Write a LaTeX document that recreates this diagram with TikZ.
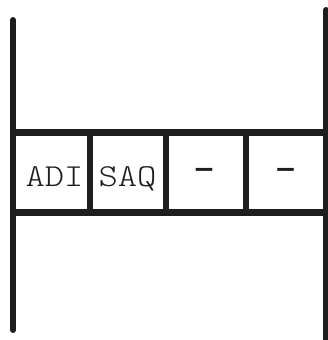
\documentclass[tikz,border=0pt]{standalone}
\usepackage{fontspec}
\setmonofont[FakeStretch=1.15]{Latin Modern Mono Light}
\newfontfamily\dashfont[FakeStretch=1.25]{Liberation Mono}
\definecolor{ink}{HTML}{1E1E1E}
\begin{document}
\begin{tikzpicture}[x=1pt,y=-1pt,
  bar/.style={line width=6pt,line cap=round,color=ink},
  rail/.style={line width=6.5pt,color=ink},
  cell/.style={font=\ttfamily\fontsize{32}{32}\selectfont,inner sep=0pt,text=ink,anchor=base},
  dashcell/.style={font=\dashfont\bfseries\fontsize{30}{30}\selectfont,inner sep=0pt,text=ink}]
\useasboundingbox (0,0) rectangle (328,340);
% outer vertical posts
\coordinate (lt) at (13,20);
\coordinate (lb) at (13,330);
\coordinate (rt) at (326,10);
\coordinate (rb) at (326,345);
\draw[bar] (lt) -- (lb);
\draw[bar] (rt) -- (rb);
% horizontal rails
\coordinate (t1) at (13,132.5);
\coordinate (t2) at (328,132.5);
\coordinate (b1) at (13,212.5);
\coordinate (b2) at (328,212.5);
\draw[rail] (t1) -- (t2);
\draw[rail] (b1) -- (b2);
% dividers
\foreach \x/\n in {90/d1,166/d2,246/d3}{
  \coordinate (\n t) at (\x,132.5);
  \coordinate (\n b) at (\x,212.5);
  \draw[bar,line cap=butt] (\n t) -- (\n b);
}
% cell texts
\node[cell] (c1) at (54.5,186) {ADI};
\node[cell] (c2) at (127.5,186) {SAQ};
\node[dashcell] (c3) at (204,173) {–};
\node[dashcell] (c4) at (285.5,173) {–};
\end{tikzpicture}
\end{document}
